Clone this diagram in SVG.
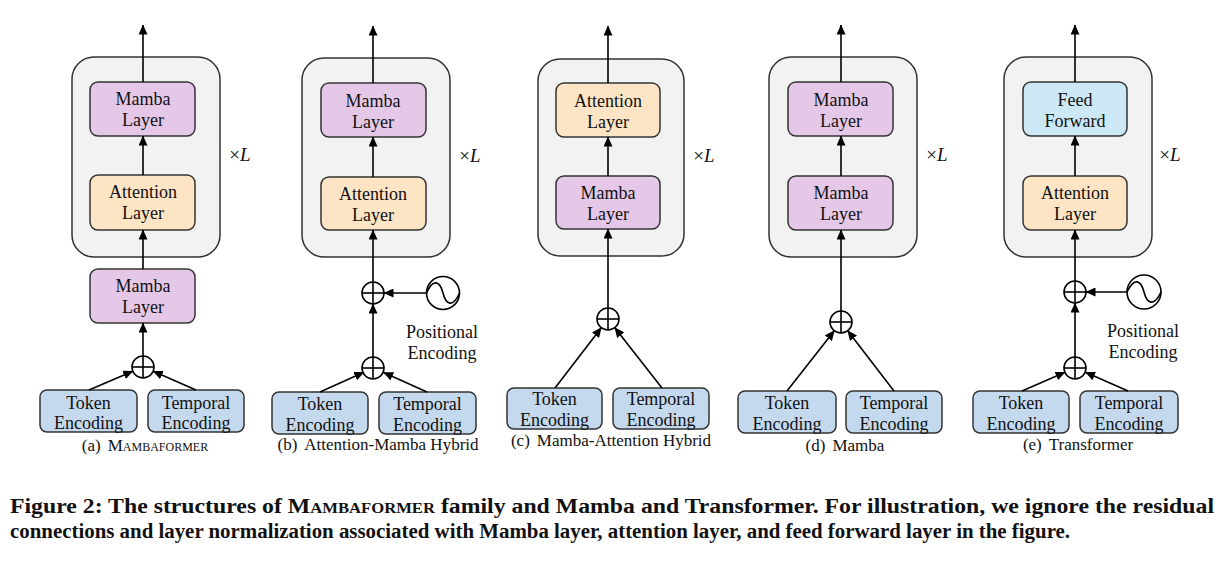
<svg xmlns="http://www.w3.org/2000/svg" width="1228" height="562" viewBox="0 0 1228 562">
<defs>
<marker id="ah" markerUnits="userSpaceOnUse" markerWidth="10" markerHeight="9" refX="9.5" refY="4.5" orient="auto" viewBox="0 0 10 9"><path d="M0,0 L10,4.5 L0,9 z" fill="#000"/></marker>
<style>
.outer{fill:#f2f2f2;stroke:#333;stroke-width:1.5}
.box{stroke:#333;stroke-width:1.5}
.mamba{fill:#e5c8e8}
.attn{fill:#fce4c4}
.ff{fill:#cce8f5}
.enc{fill:#c5d9ee}
.lbl,.cap,.xl,.title{font-family:'Liberation Serif','Times New Roman','DejaVu Serif',serif;fill:#111}
.lbl{font-size:18px;text-anchor:middle}
.cap{font-size:17px;text-anchor:middle}
.xl{font-size:19px;text-anchor:middle}
.title{font-size:20px;font-weight:bold}
.sc{font-variant:small-caps}
.con line{stroke:#000;stroke-width:1.6;fill:none}
.arr{marker-end:url(#ah)}
.op circle{fill:#fff;stroke:#000;stroke-width:1.6}
.op line,.op path{stroke:#000;stroke-width:1.6;fill:none}
</style>
</defs>
<rect width="1228" height="562" fill="#fff"/>

<!-- Panel (a) -->
<g id="a-block"><rect class="outer" x="72" y="57" width="148" height="200" rx="22"/></g>
<g id="a-mamba-top"><rect class="box mamba" x="90" y="82" width="105" height="54" rx="8"/><text class="lbl" x="143" y="105">Mamba</text><text class="lbl" x="143" y="126">Layer</text></g>
<g id="a-attn"><rect class="box attn" x="90" y="175" width="105" height="55" rx="8"/><text class="lbl" x="143" y="198">Attention</text><text class="lbl" x="143" y="219">Layer</text></g>
<g id="a-mamba-bottom"><rect class="box mamba" x="90" y="269" width="105" height="54" rx="8"/><text class="lbl" x="143" y="292">Mamba</text><text class="lbl" x="143" y="313">Layer</text></g>
<g id="a-plus" class="op"><circle cx="143" cy="367" r="11"/><line x1="132" y1="367" x2="154" y2="367"/><line x1="143" y1="356" x2="143" y2="378"/></g>
<g id="a-token"><rect class="box enc" x="40" y="390" width="97" height="42" rx="7"/><text class="lbl" x="88.5" y="409">Token</text><text class="lbl" x="88.5" y="429">Encoding</text></g>
<g id="a-temporal"><rect class="box enc" x="148" y="390" width="96" height="42" rx="7"/><text class="lbl" x="196" y="409">Temporal</text><text class="lbl" x="196" y="429">Encoding</text></g>
<text class="xl" x="240" y="161">×<tspan font-style="italic">L</tspan></text>
<text class="cap" x="145" y="451">(a)<tspan dx="7" class="sc">Mambaformer</tspan></text>

<!-- Panel (b) -->
<g id="b-block"><rect class="outer" x="302" y="58" width="148" height="199" rx="22"/></g>
<g id="b-mamba"><rect class="box mamba" x="321" y="83" width="105" height="54" rx="8"/><text class="lbl" x="373" y="107">Mamba</text><text class="lbl" x="373" y="128">Layer</text></g>
<g id="b-attn"><rect class="box attn" x="321" y="177" width="105" height="53" rx="8"/><text class="lbl" x="373" y="200">Attention</text><text class="lbl" x="373" y="221">Layer</text></g>
<g id="b-plus1" class="op"><circle cx="373" cy="293" r="11"/><line x1="362" y1="293" x2="384" y2="293"/><line x1="373" y1="282" x2="373" y2="304"/></g>
<g id="b-sine" class="op"><circle cx="443" cy="293" r="16.5"/><path d="M426.5,293 C433,278 440,281 443,293 C446,305 453,308 459.5,293"/></g>
<g id="b-plus2" class="op"><circle cx="373" cy="368" r="11"/><line x1="362" y1="368" x2="384" y2="368"/><line x1="373" y1="357" x2="373" y2="379"/></g>
<text class="lbl" x="442" y="338">Positional</text><text class="lbl" x="442" y="359">Encoding</text>
<g id="b-token"><rect class="box enc" x="272" y="392" width="96" height="42" rx="7"/><text class="lbl" x="320" y="410">Token</text><text class="lbl" x="320" y="431">Encoding</text></g>
<g id="b-temporal"><rect class="box enc" x="379" y="392" width="97" height="42" rx="7"/><text class="lbl" x="427.5" y="410">Temporal</text><text class="lbl" x="427.5" y="431">Encoding</text></g>
<text class="xl" x="470" y="162">×<tspan font-style="italic">L</tspan></text>
<text class="cap" x="378" y="450">(b)<tspan dx="7">Attention-Mamba Hybrid</tspan></text>

<!-- Panel (c) -->
<g id="c-block"><rect class="outer" x="538" y="59" width="146" height="197" rx="22"/></g>
<g id="c-attn"><rect class="box attn" x="556" y="83" width="104" height="54" rx="8"/><text class="lbl" x="608" y="107">Attention</text><text class="lbl" x="608" y="128">Layer</text></g>
<g id="c-mamba"><rect class="box mamba" x="556" y="176" width="104" height="53" rx="8"/><text class="lbl" x="608" y="199">Mamba</text><text class="lbl" x="608" y="220">Layer</text></g>
<g id="c-plus" class="op"><circle cx="608" cy="319" r="11"/><line x1="597" y1="319" x2="619" y2="319"/><line x1="608" y1="308" x2="608" y2="330"/></g>
<g id="c-token"><rect class="box enc" x="507" y="388" width="95" height="41" rx="7"/><text class="lbl" x="554.5" y="405">Token</text><text class="lbl" x="554.5" y="426">Encoding</text></g>
<g id="c-temporal"><rect class="box enc" x="613" y="388" width="96" height="41" rx="7"/><text class="lbl" x="661" y="405">Temporal</text><text class="lbl" x="661" y="426">Encoding</text></g>
<text class="xl" x="704" y="162">×<tspan font-style="italic">L</tspan></text>
<text class="cap" x="611" y="446">(c)<tspan dx="7">Mamba-Attention Hybrid</tspan></text>

<!-- Panel (d) -->
<g id="d-block"><rect class="outer" x="769" y="57" width="148" height="200" rx="22"/></g>
<g id="d-mamba-top"><rect class="box mamba" x="788" y="82" width="105" height="54" rx="8"/><text class="lbl" x="841" y="106">Mamba</text><text class="lbl" x="841" y="127">Layer</text></g>
<g id="d-mamba-bottom"><rect class="box mamba" x="788" y="176" width="105" height="54" rx="8"/><text class="lbl" x="841" y="199">Mamba</text><text class="lbl" x="841" y="220">Layer</text></g>
<g id="d-plus" class="op"><circle cx="841" cy="322" r="11"/><line x1="830" y1="322" x2="852" y2="322"/><line x1="841" y1="311" x2="841" y2="333"/></g>
<g id="d-token"><rect class="box enc" x="738" y="391" width="98" height="42" rx="7"/><text class="lbl" x="787" y="409">Token</text><text class="lbl" x="787" y="430">Encoding</text></g>
<g id="d-temporal"><rect class="box enc" x="846" y="391" width="96" height="42" rx="7"/><text class="lbl" x="894" y="409">Temporal</text><text class="lbl" x="894" y="430">Encoding</text></g>
<text class="xl" x="937" y="161">×<tspan font-style="italic">L</tspan></text>
<text class="cap" x="845" y="451">(d)<tspan dx="7">Mamba</tspan></text>

<!-- Panel (e) -->
<g id="e-block"><rect class="outer" x="1004" y="57" width="148" height="200" rx="22"/></g>
<g id="e-ff"><rect class="box ff" x="1023" y="82" width="104" height="54" rx="8"/><text class="lbl" x="1075" y="106">Feed</text><text class="lbl" x="1075" y="127">Forward</text></g>
<g id="e-attn"><rect class="box attn" x="1023" y="176" width="104" height="54" rx="8"/><text class="lbl" x="1075" y="199">Attention</text><text class="lbl" x="1075" y="220">Layer</text></g>
<g id="e-plus1" class="op"><circle cx="1075" cy="292" r="11"/><line x1="1064" y1="292" x2="1086" y2="292"/><line x1="1075" y1="281" x2="1075" y2="303"/></g>
<g id="e-sine" class="op"><circle cx="1144" cy="292" r="17"/><path d="M1127,292 C1134,277 1141,280 1144,292 C1147,304 1154,307 1161,292"/></g>
<g id="e-plus2" class="op"><circle cx="1075" cy="368" r="11"/><line x1="1064" y1="368" x2="1086" y2="368"/><line x1="1075" y1="357" x2="1075" y2="379"/></g>
<text class="lbl" x="1143" y="337">Positional</text><text class="lbl" x="1143" y="358">Encoding</text>
<g id="e-token"><rect class="box enc" x="973" y="391" width="96" height="42" rx="7"/><text class="lbl" x="1021" y="409">Token</text><text class="lbl" x="1021" y="430">Encoding</text></g>
<g id="e-temporal"><rect class="box enc" x="1080" y="391" width="98" height="42" rx="7"/><text class="lbl" x="1129" y="409">Temporal</text><text class="lbl" x="1129" y="430">Encoding</text></g>
<text class="xl" x="1170" y="161">×<tspan font-style="italic">L</tspan></text>
<text class="cap" x="1078" y="450">(e)<tspan dx="7">Transformer</tspan></text>

<!-- Connectors -->
<g id="connectors" class="con">
<line class="arr" x1="143" y1="356" x2="143" y2="323"/>
<line class="arr" x1="143" y1="269" x2="143" y2="230"/>
<line class="arr" x1="143" y1="175" x2="143" y2="136"/>
<line class="arr" x1="143" y1="82" x2="143" y2="25"/>
<line class="arr" x1="89" y1="390" x2="132.8" y2="371.2"/>
<line class="arr" x1="196" y1="390" x2="153.2" y2="371.2"/>

<line class="arr" x1="373" y1="357" x2="373" y2="304"/>
<line class="arr" x1="373" y1="282" x2="373" y2="230"/>
<line class="arr" x1="373" y1="177" x2="373" y2="137"/>
<line class="arr" x1="373" y1="83" x2="373" y2="26"/>
<line class="arr" x1="426.5" y1="293" x2="384" y2="293"/>
<line class="arr" x1="320" y1="392" x2="363.9" y2="372.3"/>
<line class="arr" x1="427" y1="392" x2="383.6" y2="372.4"/>

<line class="arr" x1="608" y1="308" x2="608" y2="229"/>
<line class="arr" x1="608" y1="176" x2="608" y2="137"/>
<line class="arr" x1="608" y1="83" x2="608" y2="26"/>
<line class="arr" x1="555" y1="388" x2="601.3" y2="327.7"/>
<line class="arr" x1="662" y1="388" x2="614.8" y2="327.7"/>

<line class="arr" x1="841" y1="311" x2="841" y2="230"/>
<line class="arr" x1="841" y1="176" x2="841" y2="136"/>
<line class="arr" x1="841" y1="82" x2="841" y2="25"/>
<line class="arr" x1="787" y1="391" x2="834.3" y2="330.7"/>
<line class="arr" x1="894" y1="391" x2="847.7" y2="330.7"/>

<line class="arr" x1="1075" y1="357" x2="1075" y2="303"/>
<line class="arr" x1="1075" y1="281" x2="1075" y2="230"/>
<line class="arr" x1="1075" y1="176" x2="1075" y2="136"/>
<line class="arr" x1="1075" y1="82" x2="1075" y2="25"/>
<line class="arr" x1="1127" y1="292" x2="1086" y2="292"/>
<line class="arr" x1="1022" y1="391" x2="1065" y2="372.2"/>
<line class="arr" x1="1128" y1="391" x2="1085.5" y2="372.3"/>
</g>

<!-- Figure caption -->
<text class="title" x="10" y="513" textLength="1204" lengthAdjust="spacingAndGlyphs">Figure 2: The structures of <tspan class="sc">Mambaformer</tspan> family and Mamba and Transformer. For illustration, we ignore the residual</text>
<text class="title" x="10" y="538" textLength="1060" lengthAdjust="spacingAndGlyphs">connections and layer normalization associated with Mamba layer, attention layer, and feed forward layer in the figure.</text>
</svg>
